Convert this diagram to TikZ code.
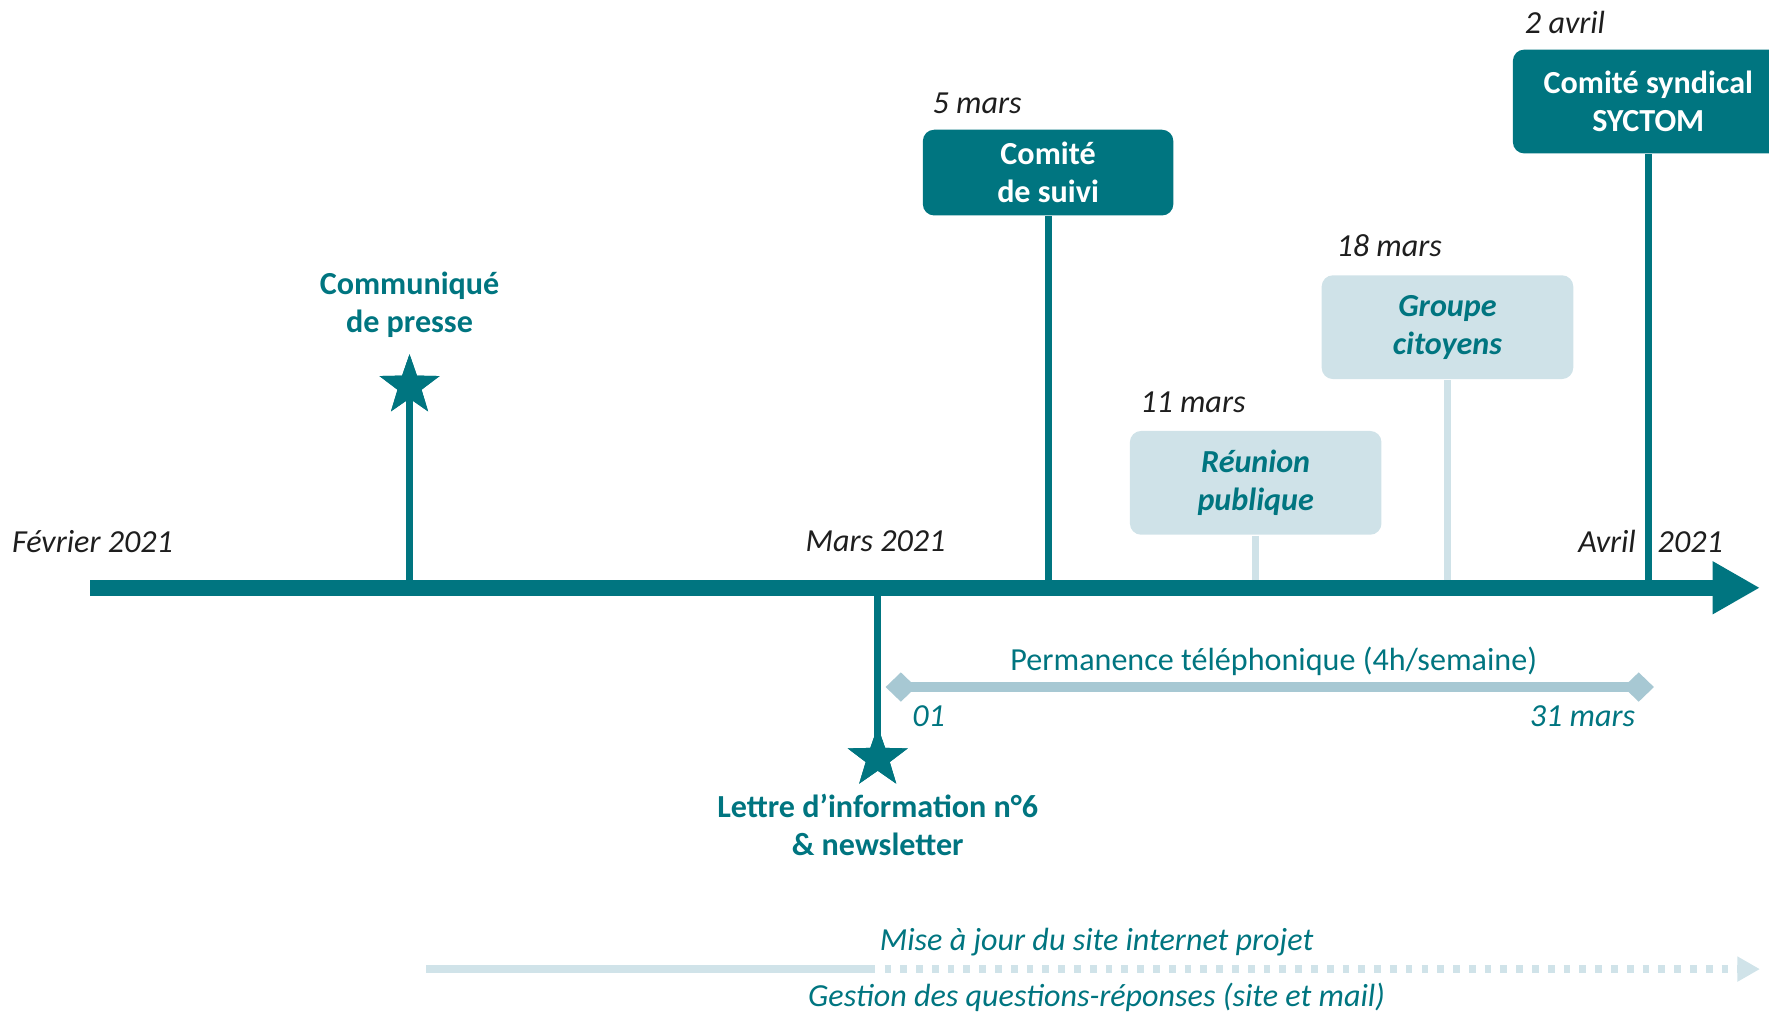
\documentclass[tikz,border=0pt]{standalone}
\usepackage{fontspec}
\setmainfont{Carlito}
\usetikzlibrary{arrows.meta,shapes.geometric}
\definecolor{teal1}{RGB}{0,117,128}
\definecolor{boxlight}{RGB}{207,226,232}
\definecolor{permline}{RGB}{167,200,211}
\definecolor{botline}{RGB}{208,227,233}
\definecolor{datecol}{RGB}{30,30,30}
\begin{document}
\begin{tikzpicture}[x=0.1mm,y=-0.1mm,
  basefont/.style={font=\fontsize{8.1}{9.6}\selectfont},
  every node/.style={basefont, inner sep=0pt},
  datelbl/.style={font=\fontsize{8.1}{9.6}\selectfont\itshape, text=datecol},
  darkbox/.style={fill=teal1, rounded corners=1mm, text=white, font=\fontsize{8.1}{9.6}\selectfont\bfseries, align=center},
  lightbox/.style={fill=boxlight, rounded corners=1mm, text=teal1, font=\fontsize{8.1}{9.6}\selectfont\bfseries\itshape, align=center},
  stemdark/.style={draw=teal1, line width=1.8pt},
  stemlight/.style={draw=boxlight, line width=1.8pt},
  starmark/.style={star, star points=5, star point ratio=2.5, fill=teal1, minimum size=5.6mm, inner sep=0pt},
  evlabel/.style={text=teal1, font=\fontsize{8.1}{9.6}\selectfont\bfseries, align=center},
  tealtext/.style={text=teal1},
  tealital/.style={text=teal1, font=\fontsize{8.1}{9.6}\selectfont\itshape},
]
\useasboundingbox (0,0) rectangle (1568,898);

% coordinates on the timeline
\coordinate (tstart) at (80,521);
\coordinate (tend) at (1560,521);
\coordinate (feb) at (363,521);
\coordinate (mar) at (778,521);
\coordinate (m5) at (929,521);
\coordinate (m11) at (1113,521);
\coordinate (m18) at (1283,521);
\coordinate (a2) at (1461,521);

% boxes
\node[darkbox, minimum width=22.2mm, minimum height=7.6mm] (suivi) at (929,153) {Comité\\de suivi};
\node[lightbox, minimum width=22.3mm, minimum height=9.2mm] (reunion) at (1113,428) {Réunion\\publique};
\node[lightbox, minimum width=22.3mm, minimum height=9.2mm] (groupe) at (1283,290) {Groupe\\citoyens};
\node[darkbox, minimum width=24mm, minimum height=9.2mm] (syctom) at (1461,90) {Comité syndical\\SYCTOM};

% dates
\node[datelbl, anchor=west] (d5) at (826,92) {5 mars};
\node[datelbl, anchor=west] (d11) at (1010,357) {11 mars};
\node[datelbl, anchor=west] (d18) at (1184,218) {18 mars};
\node[datelbl, anchor=west] (d2) at (1351,20) {2 avril};

% stems
\draw[stemdark] (suivi.south) -- (m5);
\draw[stemlight] (reunion.south) -- (m11);
\draw[stemlight] (groupe.south) -- (m18);
\draw[stemdark] (syctom.south) -- (a2);

\node[starmark] (star1) at (363,342) {};
\node[starmark] (star2) at (778,672) {};
\draw[stemdark] (feb) -- (star1.center);
\draw[stemdark] (mar) -- (star2.center);
\node[starmark] at (363,342) {};
\node[starmark] at (778,672) {};

% main timeline
\draw[draw=teal1, line width=3.97pt, -{Triangle[length=4.2mm,width=4.4mm]}] (tstart) -- (tend);

% month labels
\node[datelbl, anchor=west] (lfeb) at (10,480) {Février 2021};
\node[datelbl] (lmar) at (776,480) {Mars 2021};
\node[datelbl] (lavr) at (1463,480) {Avril\hspace{1.3mm} 2021};

% event labels
\node[evlabel] (lcomm) at (363,270) {Communiqué\\de presse};
\node[evlabel] (llettre) at (778,731) {Lettre d’information n°6\\\& newsletter};

% permanence
\coordinate (p1) at (785,609);
\coordinate (p2) at (1466,609);
\draw[draw=permline, line width=2.55pt, {Diamond[length=2.7mm,width=2.6mm]}-{Diamond[length=2.7mm,width=2.6mm]}] (p1) -- (p2);
\node[tealtext] (lperm) at (1129,586) {Permanence téléphonique (4h/semaine)};
\node[tealital, anchor=west] (l01) at (808,635) {01};
\node[tealital, anchor=east] (l31) at (1450,635) {31 mars};

% bottom line
\coordinate (b1) at (378,859);
\coordinate (b2) at (770,859);
\coordinate (b3) at (1560,859);
\draw[draw=botline, line width=2pt] (b1) -- (b2);
\draw[draw=botline, line width=2pt, dash pattern=on 0.6mm off 0.8mm, -{Triangle[length=2mm,width=2.1mm]}] (b2) -- (b3);
\node[tealital] (lmaj) at (972,835) {Mise à jour du site internet projet};
\node[tealital] (lgest) at (972,884) {Gestion des questions-réponses (site et mail)};
\end{tikzpicture}
\end{document}
